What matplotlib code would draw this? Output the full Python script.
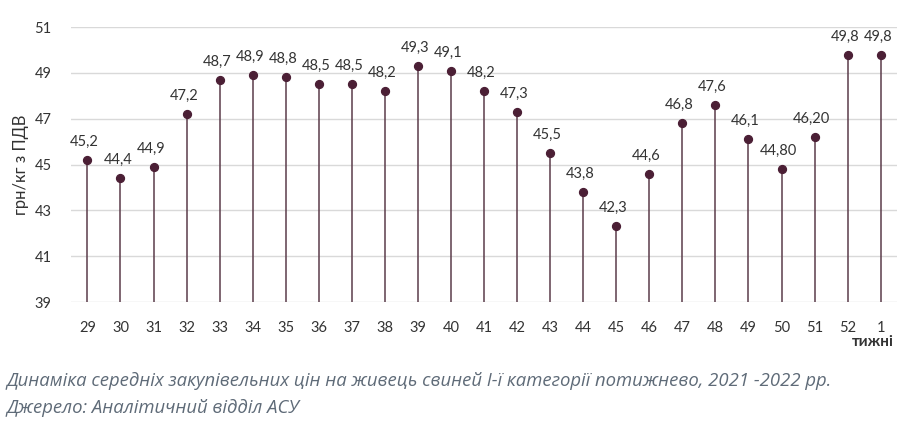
import numpy as np
import matplotlib.pyplot as plt

weeks = ["29", "30", "31", "32", "33", "34", "35", "36", "37", "38", "39", "40", "41",
         "42", "43", "44", "45", "46", "47", "48", "49", "50", "51", "52", "1"]
prices = [45.2, 44.4, 44.9, 47.2, 48.7, 48.9, 48.8, 48.5, 48.5, 48.2, 49.3, 49.1, 48.2,
          47.3, 45.5, 43.8, 42.3, 44.6, 46.8, 47.6, 46.1, 44.8, 46.2, 49.8, 49.8]
labels = ["45,2", "44,4", "44,9", "47,2", "48,7", "48,9", "48,8", "48,5", "48,5", "48,2",
          "49,3", "49,1", "48,2", "47,3", "45,5", "43,8", "42,3", "44,6", "46,8", "47,6",
          "46,1", "44,80", "46,20", "49,8", "49,8"]

plt.rcParams['font.family'] = ['Lato', 'DejaVu Sans']

fig = plt.figure(figsize=(9.09, 4.29), dpi=100)
ax = fig.add_axes([0.078, 0.296, 0.909, 0.641])

x = np.arange(len(weeks))
ax.vlines(x, 39, prices, color='#5b3c4a', linewidth=1.1, zorder=3)
ax.scatter(x, prices, s=32, color='#4b1f35', zorder=4)
for xi, yi, t in zip(x, prices, labels):
    ax.annotate(t, (xi, yi), xytext=(-2, 8), textcoords='offset points',
                ha='center', va='bottom', fontsize=10.5, color='#333333')

ax.set_xlim(-0.5, len(weeks) - 0.5)
ax.set_ylim(39, 51)
ax.set_yticks([39, 41, 43, 45, 47, 49, 51])
ax.set_xticks(x)
ax.set_xticklabels(weeks)
ax.grid(axis='y', color='#d9d9d9', linewidth=1)
ax.set_axisbelow(True)
for s in ax.spines.values():
    s.set_visible(False)
ax.tick_params(length=0, labelsize=10.5, colors='#333333')
ax.tick_params(axis='x', pad=14)
ax.tick_params(axis='y', pad=14)

ax.set_ylabel("грн/кг з ПДВ", fontsize=12, color='#333333', labelpad=4)
fig.text(0.983, 0.202, "тижні", ha='right', va='center', fontsize=11,
         fontweight='bold', color='#333333')

fig.text(0.007, 0.112, "Динаміка середніх закупівельних цін на живець свиней І-ї категорії потижнево, 2021 -2022 рр.",
         fontsize=13.3, style='italic', color='#5f6b78', family=['Open Sans', 'DejaVu Sans'], va='center')
fig.text(0.007, 0.048, "Джерело: Аналітичний відділ АСУ",
         fontsize=13.3, style='italic', color='#5f6b78', family=['Open Sans', 'DejaVu Sans'], va='center')

fig.savefig("out.png", dpi=100)
